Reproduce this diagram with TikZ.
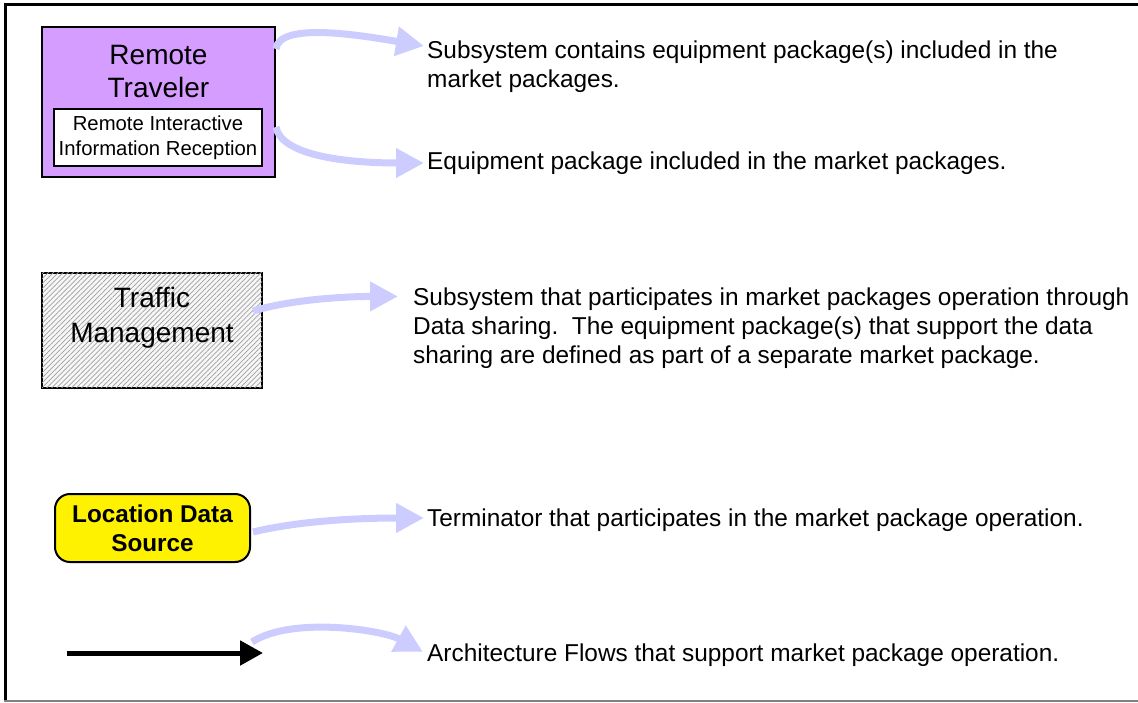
\documentclass[tikz,border=0pt]{standalone}
\usepackage{fontspec}
\setmainfont{Liberation Sans}
\usetikzlibrary{arrows.meta,positioning,patterns.meta,calc}

\definecolor{travelerpurple}{RGB}{213,157,255}
\definecolor{flowblue}{RGB}{204,204,255}

\begin{document}
\frenchspacing
\begin{tikzpicture}[x=1pt,y=-1pt,
	box/.style={draw,line width=2pt,inner sep=0pt},
	note/.style={anchor=west,align=left,inner sep=0pt,font=\fontsize{24.4}{29}\selectfont},
	flow/.style={draw=flowblue,line width=7pt,-{Triangle[length=28pt,width=28pt]}}]
	\useasboundingbox (0,0) rectangle (1138,702);
	% frame
	\draw[line width=3pt] (5.5,702) -- (5.5,4.5) -- (1140,4.5);
	\draw[gray,line width=2pt] (4,700.5) -- (1140,700.5);
	% legend symbols
	\node[box,fill=travelerpurple,minimum width=233pt,minimum height=150pt] (rt) at (158.5,102) {};
	\node[align=center,font=\fontsize{28}{33}\selectfont] (rtname) at (158.5,72) {Remote\\Traveler};
	\node[box,fill=white,line width=1.5pt,minimum width=208pt,minimum height=57pt,align=center,
		font=\fontsize{20.3}{25}\selectfont] (rir) at (158,137.5) {Remote Interactive\\Information Reception};
	\node[box,fill=gray!6,postaction={pattern={Lines[angle=45,distance=3.5pt,line width=0.7pt]},pattern color=gray!75},
		minimum width=220pt,minimum height=115pt] (tm) at (152,330) {};
	\node[align=center,font=\fontsize{28}{35}\selectfont] (tmname) at (152,318) {Traffic\\Management};
	\node[box,fill=yellow,rounded corners=15pt,minimum width=195pt,minimum height=68pt,align=center,
		font=\fontsize{24.3}{29}\selectfont\bfseries] (lds) at (152.5,528) {Location Data\\Source};
	\coordinate (flowstart) at (67,653);
	\coordinate (flowend) at (263,653);
	\draw[line width=5pt,-{Triangle[length=23pt,width=24pt]}] (flowstart) -- (flowend);
	% explanations
	\node[note] (t1) at (427,67) {Subsystem contains equipment package(s) included in the\\market packages.};
	\node[note] (t2) at (427,163) {Equipment package included in the market packages.};
	\node[note] (t3) at (413,328) {Subsystem that participates in market packages operation through\\Data sharing.\ \ The equipment package(s) that support the data\\sharing are defined as part of a separate market package.};
	\node[note] (t4) at (427,520) {Terminator that participates in the market package operation.};
	\node[note] (t5) at (427,655) {Architecture Flows that support market package operation.};
	% pointers
	\draw[flow] ($(rt.north east)+(0,23)$) .. controls +(3,-28) and +(-60,-10) .. ($(t1.north west)+(-3,5)$);
	\draw[flow] ($(rt.north east)+(0,101)$) .. controls +(5,28) and +(-80,0) .. ($(t2.west)+(-3,0)$);
	\draw[flow] ($(tm.east)+(-10,-19)$) .. controls +(40,-12) and +(-50,0) .. ($(t3.north west)+(-15,9)$);
	\draw[flow] ($(lds.east)+(2,4)$) .. controls +(50,-12) and +(-60,0) .. ($(t4.west)+(-3,-2)$);
	\draw[flow] ($(flowend)+(-11,-11)$) .. controls +(40,-26) and +(-40,-22) .. ($(t5.west)+(-4,-3)$);
\end{tikzpicture}
\end{document}
